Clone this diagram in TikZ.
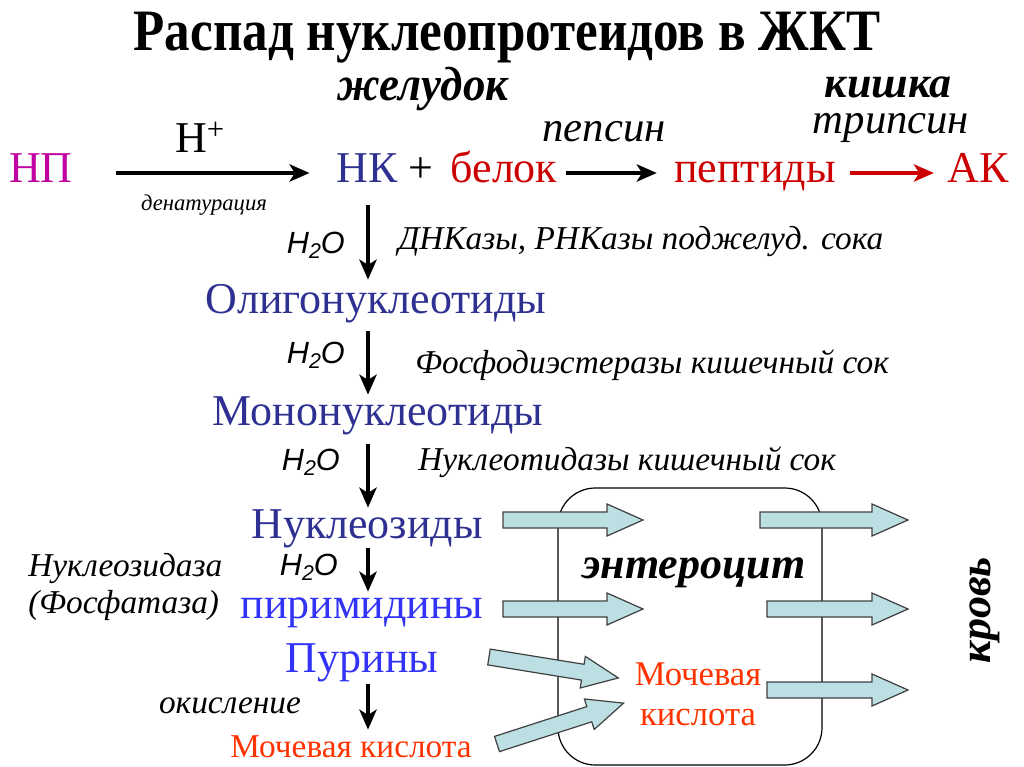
\documentclass[tikz,border=0pt]{standalone}
\usepackage{fontspec}
\setmainfont{Liberation Serif}
\setsansfont{Liberation Sans}
\usetikzlibrary{arrows.meta}

\definecolor{npcol}{HTML}{C000A0}
\definecolor{nkblue}{HTML}{2E3192}
\definecolor{brblue}{HTML}{3333F5}
\definecolor{protred}{HTML}{CC0000}
\definecolor{uricred}{HTML}{FF3300}
\definecolor{cellfill}{HTML}{BCDFE3}
\definecolor{celldraw}{HTML}{404040}

\newcommand{\HtwoO}{H\raisebox{-0.35ex}{\fontsize{16}{16}\selectfont 2}O}
% block arrow: tail x, tail y, angle, length
\newcommand{\blockarr}[4]{\draw[cell arrow,shift={(#1,#2)},rotate=#3] (0,-8) -- ({#4-36},-8) -- ({#4-36},-16) -- (#4,0) -- ({#4-36},16) -- ({#4-36},8) -- (0,8) -- cycle;}

\begin{document}
\begin{tikzpicture}[x=0.75pt,y=-0.75pt,
    big/.style={font=\fontsize{33}{38}\selectfont,inner sep=0pt,anchor=base},
    enzyme/.style={font=\fontsize{25}{30}\selectfont\itshape,inner sep=0pt,anchor=base west},
    water/.style={font=\fontsize{23}{26}\selectfont\sffamily\itshape,inner sep=0pt,anchor=base east},
    organ/.style={font=\fontsize{33}{38}\selectfont\bfseries\itshape,inner sep=0pt,anchor=base},
    reaction/.style={-{Stealth[length=15pt,width=13pt,inset=4pt]},line width=2.6pt},
    cell arrow/.style={draw=celldraw,fill=cellfill,line width=0.9pt} ]
    \useasboundingbox (0,0) rectangle (1024,767);
    \coordinate (axis) at (368,0);
    % top
    \node[big,font=\fontsize{44}{50}\selectfont\bfseries] (title) at (507,51) {\resizebox{560pt}{\height}{Распад нуклеопротеидов в ЖКТ}};
    \node[organ,font=\fontsize{36}{40}\selectfont\bfseries\itshape] (stomach) at (423,100) {\resizebox{128pt}{\height}{желудок}};
    \node[organ] (kishka) at (888,98) {кишка};
    \node[big,font=\fontsize{32}{36}\selectfont\itshape] (trypsin) at (891,133) {трипсин};
    \node[big,font=\fontsize{32}{36}\selectfont\itshape] (pepsin) at (604,142) {пепсин};
    \node[big] (hplus) at (200,152) {H\textsuperscript{+}};
    \node[big,font=\fontsize{17}{20}\selectfont\itshape] (denat) at (204,210) {денатурация};
    % first row
    \node[big,text=npcol] (np) at (41,182) {НП};
    \node[big,text=nkblue] (nk) at (367,182) {НК};
    \node[big] (plus) at (421,182) {+};
    \node[big,text=protred] (belok) at (504,182) {белок};
    \node[big,text=protred] (peptides) at (755,182) {пептиды};
    \node[big,text=protred] (ak) at (978,182) {АК};
    \draw[reaction,shorten <=32pt,shorten >=20pt] ([yshift=6.75pt]np.base east) -- ([yshift=6.75pt]nk.base west);
    \draw[reaction,shorten <=6pt,shorten >=13pt] ([yshift=6.75pt]belok.base east) -- ([yshift=6.75pt]peptides.base west);
    \draw[reaction,protred,shorten <=10.5pt,shorten >=10pt] ([yshift=6.75pt]peptides.base east) -- ([yshift=6.75pt]ak.base west);
    % hydrolysis chain
    \node[water] (w1) at (345,253) {\HtwoO};
    \node[enzyme] (dnase) at (398,249) {ДНКазы, РНКазы поджелуд. сока};
    \node[big,text=nkblue] (oligo) at (376,313) {Олигонуклеотиды};
    \node[water] (w2) at (345,363) {\HtwoO};
    \node[enzyme] (pde) at (415,373) {Фосфодиэстеразы кишечный сок};
    \node[big,text=nkblue] (mono) at (378,425) {Мононуклеотиды};
    \node[water] (w3) at (340,470) {\HtwoO};
    \node[enzyme] (ntase) at (418,470) {Нуклеотидазы кишечный сок};
    \node[big,text=nkblue] (nucleosides) at (367,538) {Нуклеозиды};
    \node[enzyme] (nsidase) at (28,576) {Нуклеозидаза};
    \node[water] (w4) at (338,575) {\HtwoO};
    \node[enzyme] (phosphatase) at (28,613) {(Фосфатаза)};
    \node[big,text=brblue] (pyrimidines) at (362,618) {пиримидины};
    \node[big,text=brblue] (purines) at (362,672) {Пурины};
    \node[enzyme,anchor=base] (oxidation) at (230,713) {окисление};
    \node[big,font=\fontsize{25}{30}\selectfont,text=uricred] (uric) at (351,757) {Мочевая кислота};
    \draw[reaction,shorten <=17pt,shorten >=3pt] (nk.south -| axis) -- (oligo.north -| axis);
    \draw[reaction,shorten <=6pt,shorten >=1pt] (oligo.south -| axis) -- (mono.north -| axis);
    \draw[reaction,shorten <=7pt,shorten >=1pt] (mono.south -| axis) -- (nucleosides.north -| axis);
    \draw[reaction,shorten >=4pt] (nucleosides.south -| axis) -- (pyrimidines.north -| axis);
    \draw[reaction,shorten <=1.5pt,shorten >=4pt] (purines.south -| axis) -- (uric.north -| axis);
    % enterocyte
    \draw[line width=0.9pt,rounded corners=28pt] (558,488) rectangle (822,765);
    \blockarr{503}{520}{0}{140}
    \blockarr{760}{520}{0}{148}
    \blockarr{503}{609}{0}{140}
    \blockarr{767}{609}{0}{141}
    \blockarr{767}{690}{0}{141}
    \blockarr{489}{657}{-9.2}{131}
    \blockarr{497}{744}{17.9}{133}
    \node[organ] (enterocyte) at (694,578) {энтероцит};
    \node[font=\fontsize{26}{30}\selectfont,text=uricred,align=center,inner sep=0pt] (uric2) at (698,694) {Мочевая\\кислота};
    \node[organ,anchor=center,rotate=90] (blood) at (985,610) {кровь};
\end{tikzpicture}
\end{document}
